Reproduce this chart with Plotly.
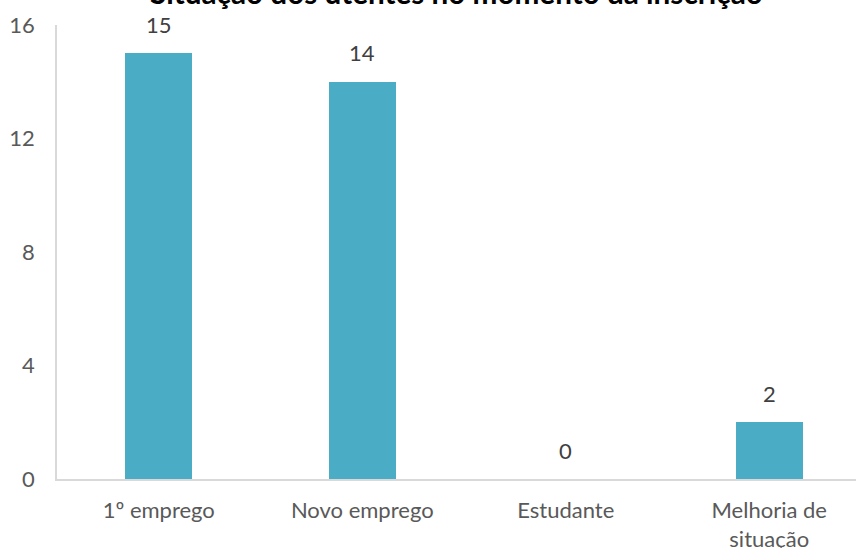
import plotly.graph_objects as go

categories = ["1º emprego", "Novo emprego", "Estudante", "Melhoria de<br>situação"]
values = [15, 14, 0, 2]
y_ticks = [0, 4, 8, 12, 16]
title_text = "Situação dos utentes no momento da inscrição"

FONT = "Lato"
W, H = 856, 548
L, R, T, B = 57, 0, 25, 69
plot_h = H - T - B

fig = go.Figure()
fig.add_trace(go.Bar(
    x=list(range(len(categories))),
    y=values,
    width=0.33,
    marker=dict(color="#4BACC6", line=dict(width=0)),
    cliponaxis=False,
    hoverinfo="x+y",
))

for i, v in enumerate(values):
    fig.add_annotation(
        x=i, y=v, xref="x", yref="y",
        text=str(v), showarrow=False,
        yanchor="middle", yshift=29,
        font=dict(family=FONT, size=22, color="#404040"),
    )

fig.add_annotation(
    text="<b>" + title_text + "</b>",
    xref="paper", yref="paper",
    x=(456 - L) / (W - L - R), y=1 + (T - (-7)) / plot_h,
    xanchor="center", yanchor="middle",
    showarrow=False,
    font=dict(family=FONT, size=29.7, color="#000000"),
)

fig.update_layout(
    width=W, height=H,
    margin=dict(l=L, r=R, t=T, b=B, pad=0, autoexpand=False),
    paper_bgcolor="white", plot_bgcolor="white",
    showlegend=False,
    bargap=0,
)
fig.update_xaxes(
    range=[-0.5, -0.5 + (W - L - R) / 203.5],
    tickmode="array",
    tickvals=list(range(len(categories))),
    ticktext=categories,
    tickfont=dict(family=FONT, size=22, color="#595959"),
    showline=True, linecolor="#D9D9D9", linewidth=1.5,
    showgrid=False, ticks="", zeroline=False,
    automargin=False,
    ticklabelstandoff=11,
)
fig.update_yaxes(
    range=[0, 16],
    tickmode="array",
    tickvals=y_ticks,
    ticktext=[str(t) for t in y_ticks],
    tickfont=dict(family=FONT, size=22, color="#595959"),
    showline=True, linecolor="#D9D9D9", linewidth=1.5,
    showgrid=False, ticks="", zeroline=False,
    automargin=False,
    ticklabelstandoff=16,
)

fig.write_html("out.html", config={"displayModeBar": False},
               post_script="document.body.style.margin='0';")
